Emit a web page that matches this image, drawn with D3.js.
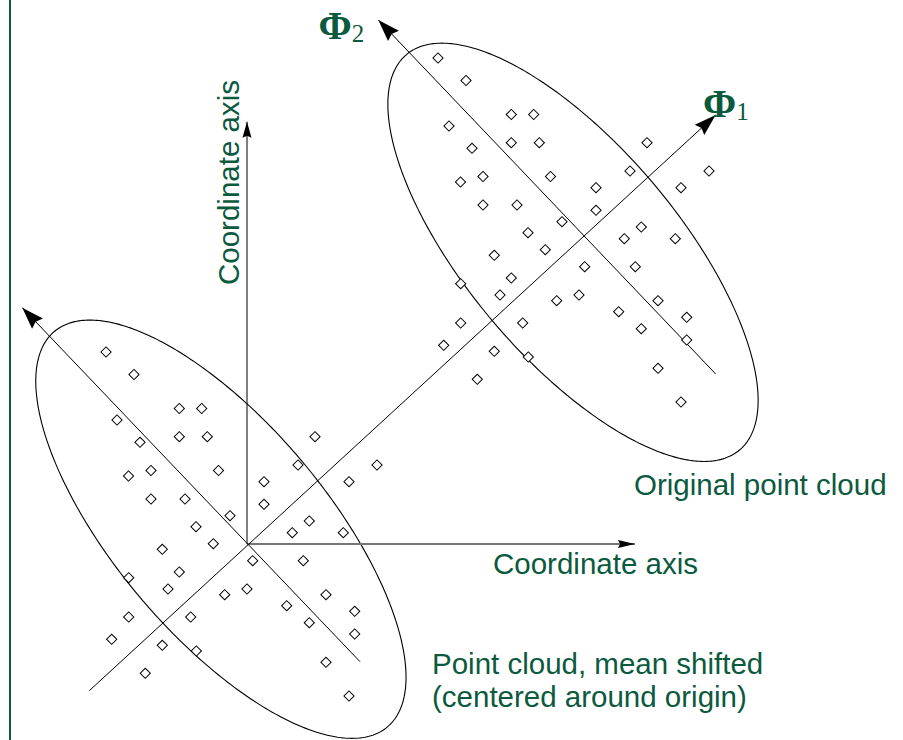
<!DOCTYPE html>
<html><head><meta charset="utf-8">
<script src="https://cdn.jsdelivr.net/npm/d3@7"></script>
<style>html,body{margin:0;padding:0;background:#fff;} svg{display:block;}</style>
</head><body><svg id="c" width="903" height="740"></svg>
<script>
// ---- data (units: centered coordinate frame, y up) ----
const cloudX = [-14.1,-11.3,-6.77,-4.53,-13.0,-6.77,-3.97,-10.7,-9.6,-11.85,-2.85,-9.6,-6.2,-1.7,-5.1,-3.37,-8.47,-6.77,-11.83,-7.9,0.57,0.0,-2.23,-11.83,-5.63,-13.53,-8.47,-5.07,-10.17,6.8,5.1,13.0,10.2,1.7,1.7,6.23,4.53,9.63,5.63,7.9,3.97,10.77,6.23,10.77,7.9,10.2];
const cloudY = [19.2,16.95,13.55,13.55,12.4,10.73,10.73,10.17,7.35,6.8,7.35,4.5,4.5,2.83,1.73,0.03,-0.53,-2.8,-3.37,-4.5,-1.67,-4.5,-5.07,-7.3,-7.3,-9.53,-10.13,-10.7,-12.93,10.73,7.9,7.9,6.23,6.23,3.97,2.3,1.13,1.13,-1.67,-5.07,-6.17,-6.73,-7.87,-9.0,-11.83,-15.2];
const meanShift = [33.2, 29.4];

const coordAxisY = [[0,0],[0,42.23]];
const coordAxisX = [[0,0],[38.8,0]];
const phi1Axis = [[-15.77,-14.67],[46.87,42.9]];
const phi2Centered = [[11.3,-11.77],[-22.47,23.63]];
const phi2Original = [[46.87,17.0],[13.13,52.4]];
const ellipseCenters = [[-2.61,1.48],[32.6,29.17]];
const ellipseSemiMajor = 25.85, ellipseSemiMinor = 10.58, ellipseAngleDeg = -49.9;

const labels = [
  {text:"Coordinate axis", x:-0.77, y:25.9, rotate:-90},
  {text:"Coordinate axis", x:24.6, y:-3.0, rotate:0},
  {text:"Original point cloud", x:38.7, y:4.9, rotate:0},
  {text:"Point cloud, mean shifted", x:18.5, y:-13.0, rotate:0},
  {text:"(centered around origin)", x:18.5, y:-16.3, rotate:0}
];
const phiLabels = [{sym:"\u03A6", sub:"2", x:7.15, y:50.47},{sym:"\u03A6", sub:"1", x:45.6, y:42.67}];

// ---- drawing ----
const W = 903, H = 740;
const green = "#0b5a3e";
const x = d3.scaleLinear().domain([-24.7, 65.6]).range([0, W]);
const y = d3.scaleLinear().domain([-19.6, 54.4]).range([H, 0]);
const svg = d3.select("#c");

// left frame line
svg.append("line").attr("x1", x(-23.7)).attr("x2", x(-23.7)).attr("y1", 0).attr("y2", H)
  .attr("stroke", green).attr("stroke-width", 2);

const line = d3.line().x(d => x(d[0])).y(d => y(d[1]));

function arrowHead(seg, len, wid) {
  const p0 = [x(seg[0][0]), y(seg[0][1])], p1 = [x(seg[1][0]), y(seg[1][1])];
  const dx = p1[0]-p0[0], dy = p1[1]-p0[1], L = Math.hypot(dx, dy);
  const ux = dx/L, uy = dy/L, nx = -uy, ny = ux;
  const bx = p1[0]-ux*len, by = p1[1]-uy*len;
  svg.append("path")
    .attr("d", `M${p1[0]},${p1[1]}L${bx+nx*wid/2},${by+ny*wid/2}L${bx+ux*len*0.12},${by+uy*len*0.12}L${bx-nx*wid/2},${by-ny*wid/2}Z`)
    .attr("fill", "#000");
}

// ellipses
const th = ellipseAngleDeg * Math.PI / 180;
ellipseCenters.forEach(c => {
  const pts = d3.range(0, 361).map(i => {
    const t = i * Math.PI / 180;
    const ex = ellipseSemiMajor*Math.cos(t), ey = ellipseSemiMinor*Math.sin(t);
    return [c[0] + ex*Math.cos(th) - ey*Math.sin(th), c[1] + ex*Math.sin(th) + ey*Math.cos(th)];
  });
  svg.append("path").attr("d", line(pts) + "Z").attr("fill", "none").attr("stroke", "#000").attr("stroke-width", 1.1);
});

// axes lines
svg.append("path").attr("d", line(coordAxisX)).attr("stroke", "#777").attr("stroke-width", 2).attr("fill", "none");
[coordAxisY, phi1Axis, phi2Centered, phi2Original].forEach(s => {
  svg.append("path").attr("d", line(s)).attr("stroke", "#000").attr("stroke-width", 1).attr("fill", "none");
});
arrowHead(coordAxisY, 16, 9);
arrowHead(coordAxisX, 17, 8);
arrowHead(phi1Axis, 22, 14);
arrowHead(phi2Centered, 22, 15);
arrowHead(phi2Original, 22, 15);

// point clouds
const diamond = d3.symbol().type(d3.symbolSquare).size(52);
const clouds = [[0,0], meanShift];
clouds.forEach(off => {
  svg.append("g").selectAll("path").data(cloudX.map((v,i) => [v+off[0], cloudY[i]+off[1]])).join("path")
    .attr("d", diamond)
    .attr("transform", d => `translate(${x(d[0])},${y(d[1])}) rotate(45)`)
    .attr("fill", "#fff").attr("stroke", "#000").attr("stroke-width", 1);
});

// labels
labels.forEach(l => {
  svg.append("text").text(l.text)
    .attr("transform", `translate(${x(l.x)},${y(l.y)}) rotate(${l.rotate})`)
    .attr("font-family", "'Liberation Sans', Arial, Helvetica, sans-serif")
    .attr("font-size", 29.5).attr("fill", green);
});
phiLabels.forEach(p => {
  const t = svg.append("text").attr("x", x(p.x)).attr("y", y(p.y))
    .attr("font-family", "'Liberation Serif', 'DejaVu Serif', serif").attr("fill", green);
  t.append("tspan").text(p.sym).attr("font-weight", "bold").attr("font-size", 40);
  t.append("tspan").text(p.sub).attr("font-size", 25).attr("dx", 0).attr("dy", 3);
});
</script></body></html>
